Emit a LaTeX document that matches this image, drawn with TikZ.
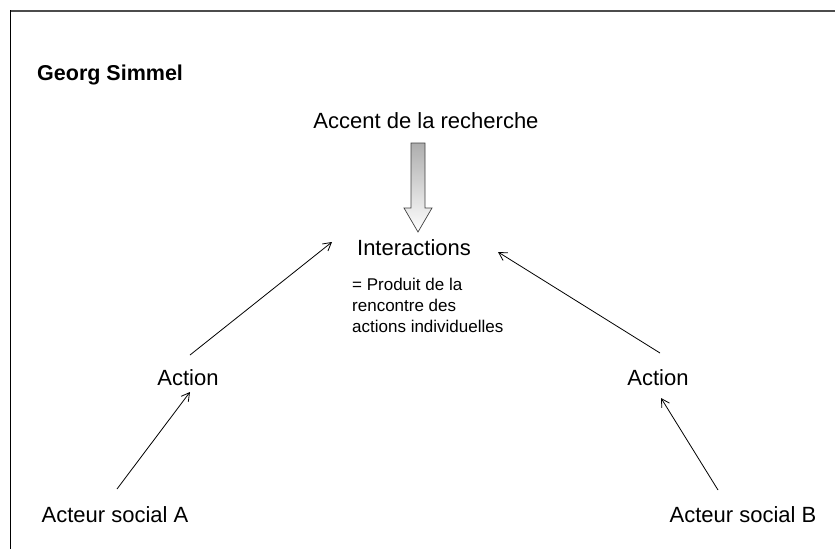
\documentclass[tikz,border=0pt]{standalone}
\usepackage{fontspec}
\setmainfont{Liberation Sans}
\usetikzlibrary{arrows.meta}
\begin{document}
\begin{tikzpicture}[x=1pt,y=-1pt,
  lbl/.style={inner sep=0pt,font=\fontsize{22}{26}\selectfont},
  note/.style={inner sep=0pt,align=left,font=\fontsize{17}{21}\selectfont},
  link/.style={line width=0.8pt,-{Straight Barb[length=8pt,width=9pt,line width=0.8pt]}},
  flow/.style={draw=black!75,line width=0.7pt,top color=black!32,bottom color=white}]
\useasboundingbox (0,0) rectangle (835,549);
% frame
\draw[line width=2pt,black!70] (10,10.5) -- (835,10.5);
\draw[line width=1.6pt] (10.5,10) -- (10.5,549);
% labels
\node[anchor=west,inner sep=0pt,font=\bfseries\fontsize{21.5}{26}\selectfont] (title) at (37,75) {Georg Simmel};
\node[lbl] (accent) at (426,121) {Accent de la recherche};
\node[lbl] (inter) at (414,248) {Interactions};
\node[note,anchor=north west] (prod) at (352,278) {= Produit de la\\rencontre des\\actions individuelles};
\node[lbl] (actA) at (188,378) {Action};
\node[lbl] (actB) at (658,378) {Action};
\node[lbl] (acA) at (115,515) {Acteur social A};
\node[lbl] (acB) at (743,515) {Acteur social B};
% research focus arrow
\draw[flow] (411,143) -- (425,143) -- (425,208) -- (432,208) -- (418,232)
  -- (404,208) -- (411,208) -- cycle;
% actions
\coordinate (a1) at (190,355);
\coordinate (a2) at (332,242);
\coordinate (b1) at (660,353);
\coordinate (b2) at (498,252);
\coordinate (c1) at (117,489);
\coordinate (c2) at (190,392);
\coordinate (d1) at (718,490);
\coordinate (d2) at (661,398);
\draw[link] (a1) -- (a2);
\draw[link] (b1) -- (b2);
\draw[link] (c1) -- (c2);
\draw[link] (d1) -- (d2);
\end{tikzpicture}
\end{document}
